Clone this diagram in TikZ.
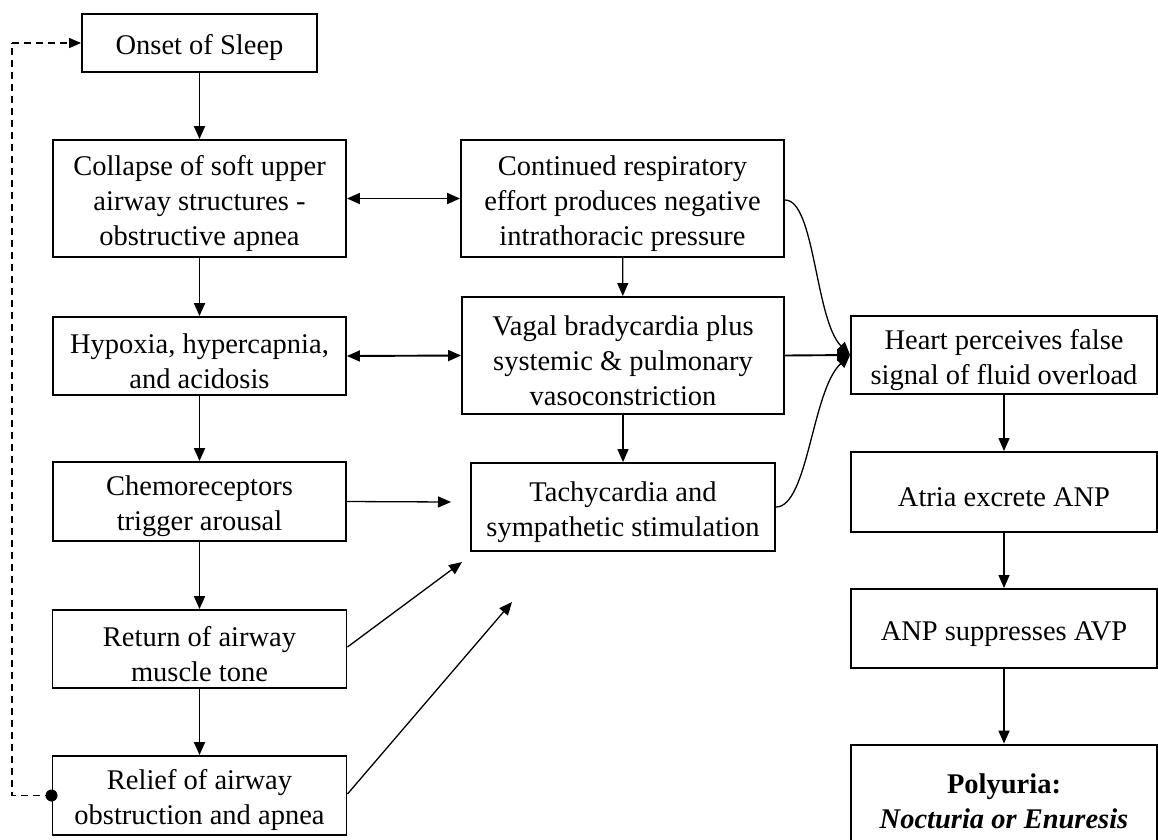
\documentclass[tikz,border=0pt]{standalone}
\usepackage{fontspec}
\setmainfont{Liberation Serif}
\usetikzlibrary{arrows.meta}
\newcommand\Tup{\rule{0pt}{30pt}}
\begin{document}
\begin{tikzpicture}[x=1pt,y=-1pt,
  box/.style={draw,line width=1.9pt,inner sep=0pt,align=center,
    font=\fontsize{28.5}{35}\selectfont},
  tip/.tip={Triangle[length=13pt,width=11pt]},
  arr/.style={line width=1.9pt,-tip},
  thinarr/.style={line width=1.3pt,-tip},
  dbl/.style={line width=1.9pt,tip-tip},
  curvearr/.style={line width=1.3pt,-tip},
  dashline/.style={line width=1.4pt,dash pattern=on 7pt off 5pt},
]
\useasboundingbox (0,0) rectangle (1158,839);
\fill[white] (0,0) rectangle (1158,839);

% left column
\node[box,minimum width=235pt,minimum height=58pt] (onset) at (199.5,43) {\Tup Onset of Sleep};
\node[box,minimum width=293pt,minimum height=117pt] (collapse) at (199.5,198.5) {\Tup Collapse of soft upper\\airway structures -\\obstructive apnea};
\node[box,minimum width=293pt,minimum height=78pt] (hypoxia) at (199.5,356) {\Tup Hypoxia, hypercapnia,\\and acidosis};
\node[box,minimum width=293pt,minimum height=79pt] (chemo) at (199.5,501.5) {\Tup Chemoreceptors\\trigger arousal};
\node[box,minimum width=294pt,minimum height=78pt] (return) at (199.5,649) {\Tup Return of airway\\muscle tone};
\node[box,minimum width=294pt,minimum height=79pt] (relief) at (199.5,795.5) {\Tup Relief of airway\\obstruction and apnea};

% middle column
\node[box,minimum width=323pt,minimum height=117pt] (cont) at (622.5,198.5) {\Tup Continued respiratory\\effort produces negative\\intrathoracic pressure};
\node[box,minimum width=322pt,minimum height=117pt] (vagal) at (623,355.5) {\Tup Vagal bradycardia plus\\systemic \& pulmonary\\vasoconstriction};
\node[box,minimum width=304pt,minimum height=88pt] (tachy) at (623,507) {\Tup Tachycardia and\\sympathetic stimulation};

% right column
\node[box,minimum width=306pt,minimum height=78pt] (heart) at (1004,355) {\Tup Heart perceives false\\signal of fluid overload};
\node[box,minimum width=306pt,minimum height=80pt] (atria) at (1004,492) {\Tup Atria excrete ANP};
\node[box,minimum width=306pt,minimum height=79pt] (anp) at (1004,628.5) {\Tup ANP suppresses AVP};
\node[box,line width=2.8pt,minimum width=306pt,minimum height=112pt] (poly) at (1004,801) {\textbf{Polyuria:}\\\textbf{\textit{Nocturia or Enuresis}}};

% free ends
\coordinate (chemoEnd) at (451,502);
\coordinate (returnEnd) at (462,562);
\coordinate (reliefEnd) at (512,602);
\coordinate (loopA) at (12,795.5);
\coordinate (loopB) at (12,43);

% left column arrows
\draw[arr] (onset) -- (collapse);
\draw[arr] (collapse) -- (hypoxia);
\draw[arr] (hypoxia) -- (chemo);
\draw[arr] (chemo) -- (return);
\draw[arr] (return) -- (relief);

% horizontal links
\draw[dbl] (collapse.east) -- (cont.west);
\draw[dbl] (hypoxia.east) -- (vagal.west);
\draw[thinarr] (chemo.east) -- (chemoEnd);
\draw[thinarr] (return.east |- 0,647) -- (returnEnd);
\draw[thinarr] (relief.east |- 0,794) -- (reliefEnd);

% middle column arrows
\draw[thinarr] (cont) -- (vagal);
\draw[thinarr] (vagal) -- (tachy);

% into heart
\draw[arr] (vagal.east) -- (heart.west);
\draw[curvearr] (cont.east |- 0,200) .. controls (815,200) and (815,320) .. (heart.west);
\draw[curvearr] (tachy.east) .. controls (808,507) and (812,390) .. (heart.west);

% right column arrows
\draw[thinarr] (heart) -- (atria);
\draw[thinarr] (atria) -- (anp);
\draw[thinarr] (anp) -- (poly);

% dashed loop
\fill (relief.west) circle (6pt);
\draw[dashline] (relief.west) -- (loopA) -- (loopB);
\draw[dashline,-{Triangle[length=12pt,width=10pt]}] (loopB) -- (onset.west);
\end{tikzpicture}
\end{document}
